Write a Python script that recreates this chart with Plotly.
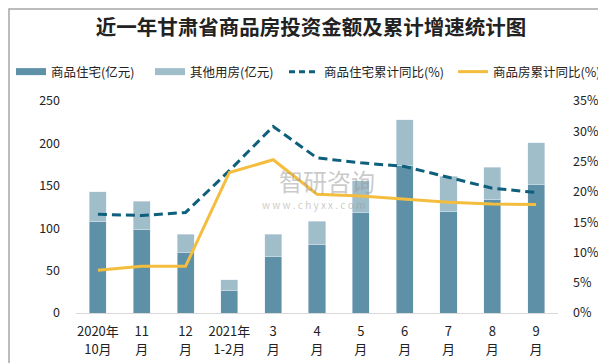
import plotly.graph_objects as go

categories = ["2020年10月", "11月", "12月", "2021年1-2月", "3月", "4月",
              "5月", "6月", "7月", "8月", "9月"]
tick_line1 = ["2020年", "11", "12", "2021年", "3", "4", "5", "6", "7", "8", "9"]
tick_line2 = ["10月", "月", "月", "1-2月", "月", "月", "月", "月", "月", "月", "月"]
residential = [108, 99, 71, 26, 67, 81, 118, 174, 120, 134, 151]
other = [35, 33, 22, 13, 26, 27, 38, 54, 41, 38, 50]
residential_yoy = [16.3, 16.1, 16.6, 23.5, 30.8, 25.6, 24.8, 24.2, 22.4, 20.6, 19.9]
housing_yoy = [7.05, 7.7, 7.7, 23.2, 25.3, 19.6, 19.3, 18.8, 18.3, 18.0, 17.9]

C_DARK = "#5e90a7"
C_LIGHT = "#a0bdca"
C_DASH = "#0e5f7c"
C_YEL = "#f4bd3e"
FONT = "Noto Sans CJK SC"

fig = go.Figure()
fig.add_trace(go.Bar(x=categories, y=residential, marker_color=C_DARK, width=0.39,
                     showlegend=False, name="商品住宅(亿元)"))
fig.add_trace(go.Bar(x=categories, y=other, marker_color=C_LIGHT, width=0.39,
                     showlegend=False, name="其他用房(亿元)"))
fig.add_trace(go.Scatter(x=categories, y=residential_yoy, yaxis="y2", mode="lines",
                         line=dict(color=C_DASH, width=3, dash="9px,5px"), showlegend=False))
fig.add_trace(go.Scatter(x=categories, y=housing_yoy, yaxis="y2", mode="lines",
                         line=dict(color=C_YEL, width=3), showlegend=False))
# carrier trace for the second row of category labels
fig.add_trace(go.Scatter(x=categories, y=[None] * len(categories), xaxis="x2", mode="lines",
                         showlegend=False, hoverinfo="skip"))

# legend-only entries, each in its own legend box
legend_items = [("商品住宅(亿元)", C_DARK, "solid", 7),
                ("其他用房(亿元)", C_LIGHT, "solid", 7),
                ("商品住宅累计同比(%)", C_DASH, "6px,4px", 3),
                ("商品房累计同比(%)", C_YEL, "solid", 3)]
legend_left = [3, 142, 276, 445]
legend_ids = ["legend", "legend2", "legend3", "legend4"]
for (name, color, dash, w), lid in zip(legend_items, legend_ids):
    fig.add_trace(go.Scatter(x=[None], y=[None], mode="lines", name=name, legend=lid,
                             line=dict(color=color, width=w, dash=dash)))

fig.update_layout(
    width=606, height=363,
    margin=dict(l=68, r=56, t=93, b=58, autoexpand=False),
    paper_bgcolor="white", plot_bgcolor="white",
    barmode="stack",
    font=dict(family=FONT, size=13, color="#222"),
    title=dict(text="<b>近一年甘肃省商品房投资金额及累计增速统计图</b>",
               x=0.5, xanchor="center", xref="container",
               y=1 - 20 / 363, yanchor="middle", yref="container",
               font=dict(family=FONT, size=20.5, color="#222")),
    xaxis=dict(showline=True, linecolor="#d9d9d9", linewidth=1, ticks="",
               tickfont=dict(size=13), showgrid=False, ticklabelstandoff=6,
               tickmode="array", tickvals=categories, ticktext=tick_line1),
    xaxis2=dict(overlaying="x", matches="x", side="bottom", anchor="y", showline=False,
                ticks="", tickfont=dict(size=13), showgrid=False, ticklabelstandoff=27,
                tickmode="array", tickvals=categories, ticktext=tick_line2),
    yaxis=dict(range=[0, 250], dtick=50, showgrid=False, zeroline=False,
               ticks="", tickfont=dict(size=12.5), ticklabelstandoff=15),
    yaxis2=dict(range=[0, 35], dtick=5, overlaying="y", side="right", showgrid=False,
                zeroline=False, ticksuffix="%", ticks="", tickfont=dict(size=12.5),
                ticklabelstandoff=14),
)
for lid, lx in zip(legend_ids, legend_left):
    fig.update_layout({lid: dict(orientation="h", xref="container", x=lx / 606, xanchor="left",
                                 yref="container", y=1 - 64 / 363, yanchor="middle",
                                 font=dict(size=12.5), itemwidth=30,
                                 bgcolor="rgba(0,0,0,0)")})

# watermark
fig.add_annotation(text="智研咨询", xref="paper", yref="paper",
                   x=(319 - 68) / 482, y=(305 - 172) / 212, showarrow=False,
                   font=dict(size=24, color="rgba(150,150,150,0.5)"))
fig.add_annotation(text="w w w . c h y x x . c o m", xref="paper", yref="paper",
                   x=(305 - 68) / 482, y=(305 - 196) / 212, showarrow=False,
                   font=dict(size=10, color="rgba(150,150,150,0.5)"))

# outer border
fig.add_shape(type="rect", xref="paper", yref="paper", x0=-67 / 482, x1=(606 - 68 - 1) / 482,
              y0=-57 / 212, y1=(363 - 58 - 1) / 212, line=dict(color="#a6a6a6", width=1.5),
              layer="below")

fig.write_html("out.html")
